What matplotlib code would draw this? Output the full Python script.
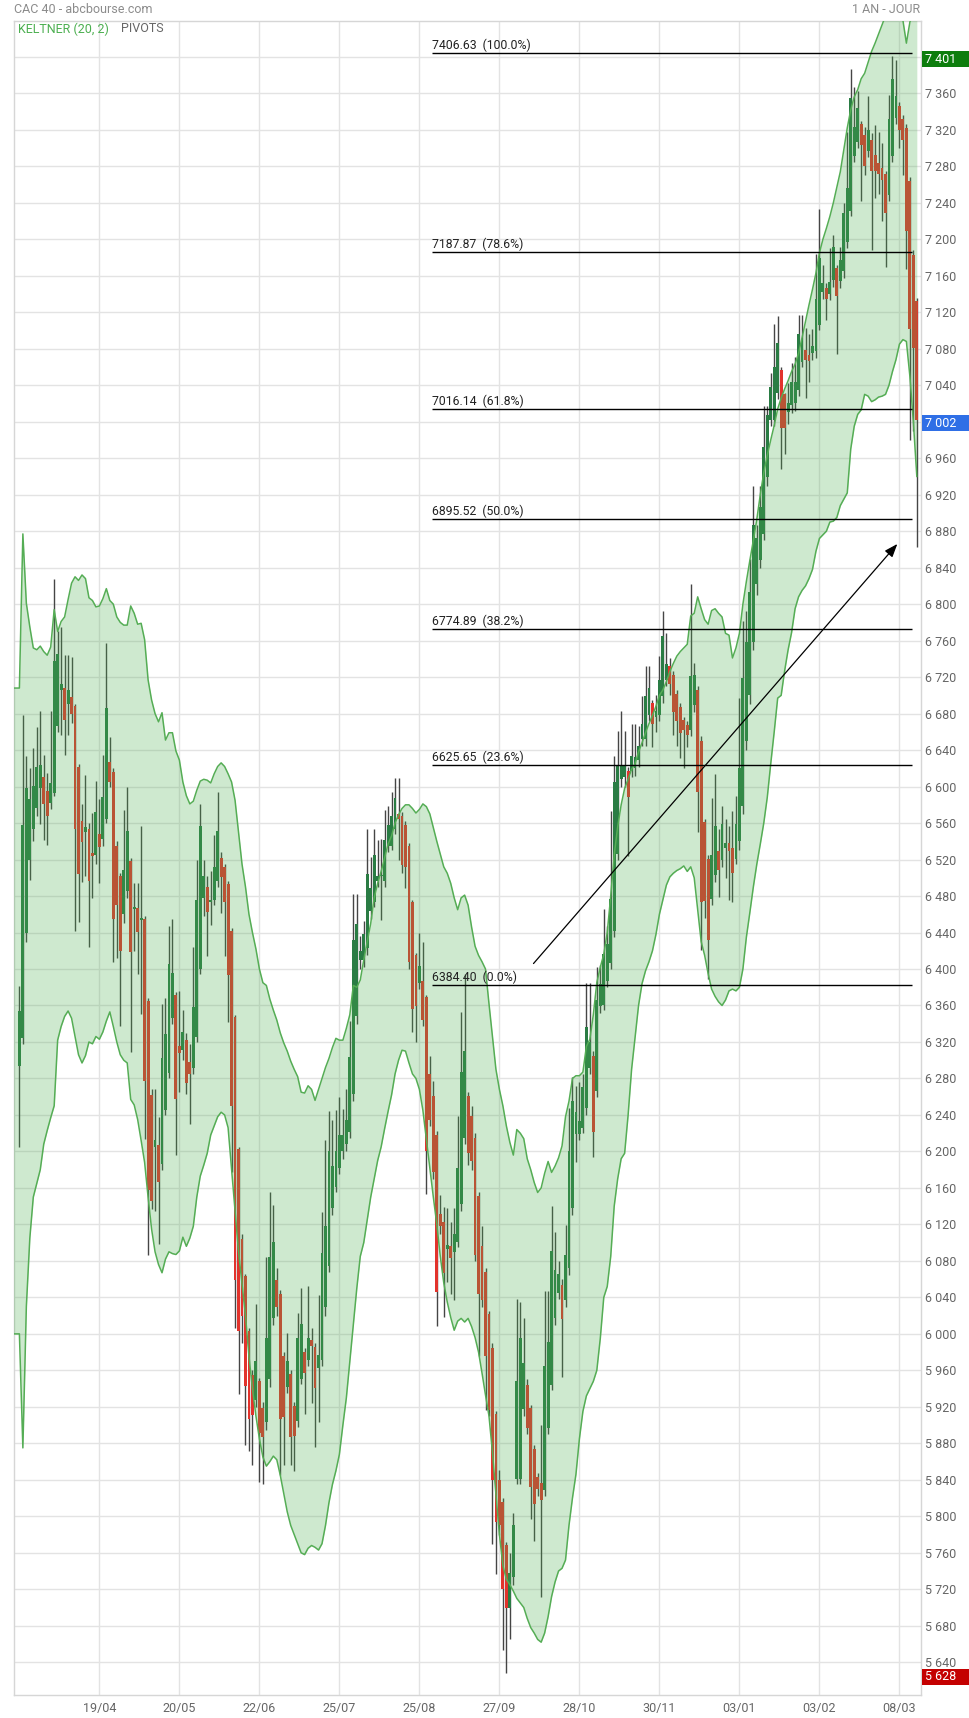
import matplotlib
matplotlib.use("Agg")
import matplotlib.pyplot as plt
import matplotlib.transforms as mtransforms
from matplotlib.patches import Rectangle
import numpy as np
import pandas as pd

plt.rcParams['font.family'] = ['Roboto', 'DejaVu Sans']

# ------------ CAC 40 daily, 15/03/2022 -> 15/03/2023 ------------
opens = [
    6294, 6324, 6440, 6519, 6553, 6576, 6598, 6610, 6595, 6582,
    6593, 6666, 6706, 6708, 6691, 6698, 6688, 6621, 6562, 6550,
    6554, 6527, 6525, 6548, 6542, 6565, 6627, 6616, 6535, 6502,
    6460, 6485, 6518, 6466, 6467, 6454, 6455, 6365, 6262, 6205,
    6207, 6186, 6245, 6286, 6346, 6371, 6316, 6311, 6322, 6298,
    6291, 6325, 6400, 6478, 6490, 6474, 6476, 6496, 6522, 6512,
    6493, 6442, 6347, 6203, 6104, 6063, 6003, 5955, 5927, 5948,
    5919, 5903, 5950, 6017, 6059, 6044, 5976, 5942, 5956, 5921,
    5904, 5950, 5980, 5971, 5993, 5986, 5963, 5971, 6029, 6074,
    6138, 6161, 6182, 6200, 6208, 6221, 6263, 6348, 6410, 6410,
    6423, 6464, 6474, 6497, 6502, 6497, 6535, 6535, 6554, 6570,
    6568, 6558, 6535, 6474, 6415, 6385, 6387, 6369, 6285, 6261,
    6218, 6131, 6123, 6093, 6096, 6090, 6101, 6142, 6215, 6261,
    6239, 6215, 6151, 6096, 6068, 6022, 5985, 5912, 5840, 5816,
    5768, 5700, 5734, 5841, 5841, 5918, 5944, 5919, 5874, 5843,
    5837, 5829, 5897, 5944, 6017, 6045, 6054, 6037, 6072, 6138,
    6219, 6219, 6226, 6248, 6292, 6305, 6266, 6359, 6360, 6387,
    6407, 6442, 6526, 6608, 6610, 6617, 6617, 6620, 6629, 6652,
    6652, 6678, 6692, 6676, 6678, 6699, 6717, 6732, 6722, 6702,
    6687, 6673, 6667, 6662, 6689, 6706, 6650, 6561, 6521, 6477,
    6503, 6529, 6519, 6533, 6538, 6533, 6521, 6540, 6579, 6650,
    6700, 6758, 6822, 6848, 6877, 6939, 7002, 7002, 7031, 7057,
    7030, 7011, 7018, 7020, 7035, 7066, 7079, 7073, 7075, 7077,
    7106, 7142, 7147, 7140, 7155, 7169, 7154, 7165, 7197, 7231,
    7291, 7307, 7326, 7314, 7297, 7309, 7292, 7284, 7278, 7272,
    7249, 7291, 7333, 7346, 7332, 7322, 7264, 7183, 7132,
]
highs = [
    6381, 6679, 6633, 6620, 6642, 6665, 6683, 6635, 6615, 6683,
    6828, 6771, 6775, 6744, 6744, 6742, 6690, 6625, 6581, 6613,
    6560, 6571, 6606, 6586, 6635, 6757, 6654, 6620, 6540, 6505,
    6574, 6600, 6522, 6494, 6494, 6557, 6458, 6368, 6268, 6268,
    6238, 6362, 6368, 6447, 6455, 6375, 6376, 6355, 6330, 6318,
    6424, 6520, 6581, 6520, 6502, 6507, 6547, 6594, 6528, 6515,
    6496, 6445, 6350, 6205, 6110, 6066, 6006, 5960, 6033, 5952,
    5925, 6084, 6156, 6141, 6072, 6048, 5980, 6001, 5960, 5925,
    6023, 6050, 5985, 6053, 6006, 5990, 6043, 6134, 6213, 6244,
    6234, 6245, 6260, 6246, 6268, 6343, 6482, 6482, 6436, 6453,
    6554, 6523, 6554, 6541, 6543, 6574, 6579, 6594, 6609, 6609,
    6572, 6562, 6538, 6476, 6418, 6440, 6430, 6372, 6305, 6277,
    6222, 6152, 6139, 6138, 6123, 6138, 6239, 6353, 6395, 6265,
    6250, 6220, 6155, 6118, 6072, 6025, 5990, 5915, 5851, 5820,
    5772, 5760, 5804, 6038, 6035, 6017, 5950, 5922, 5878, 5848,
    5900, 6047, 6047, 6140, 6112, 6080, 6060, 6119, 6248, 6282,
    6272, 6276, 6285, 6385, 6385, 6310, 6402, 6404, 6466, 6447,
    6573, 6633, 6661, 6683, 6661, 6622, 6669, 6669, 6666, 6699,
    6732, 6732, 6695, 6700, 6743, 6792, 6768, 6741, 6727, 6706,
    6692, 6676, 6672, 6822, 6736, 6710, 6655, 6565, 6525, 6587,
    6614, 6553, 6579, 6565, 6557, 6573, 6590, 6697, 6782, 6793,
    6850, 6930, 6887, 6929, 7017, 7017, 7053, 7107, 7116, 7060,
    7032, 7042, 7064, 7071, 7117, 7117, 7103, 7096, 7102, 7184,
    7233, 7172, 7152, 7190, 7205, 7172, 7192, 7240, 7318, 7387,
    7367, 7363, 7330, 7323, 7357, 7316, 7325, 7318, 7306, 7275,
    7358, 7401, 7397, 7350, 7336, 7326, 7268, 7188, 7136,
]
lows = [
    6205, 6318, 6430, 6498, 6540, 6568, 6559, 6541, 6536, 6575,
    6590, 6660, 6657, 6635, 6657, 6670, 6442, 6451, 6495, 6502,
    6424, 6478, 6515, 6494, 6535, 6560, 6600, 6408, 6412, 6338,
    6450, 6478, 6309, 6420, 6394, 6351, 6214, 6086, 6137, 6135,
    6098, 6180, 6240, 6280, 6340, 6196, 6265, 6300, 6263, 6230,
    6285, 6320, 6395, 6458, 6414, 6448, 6470, 6490, 6461, 6414,
    6342, 6177, 6006, 5934, 5990, 5878, 5872, 5856, 5920, 5838,
    5835, 5895, 5942, 6010, 6020, 5845, 5856, 5935, 5856, 5850,
    5898, 5945, 5912, 5965, 5924, 5876, 5903, 5965, 6020, 6068,
    6130, 6155, 6175, 6192, 6200, 6215, 6255, 6340, 6400, 6402,
    6415, 6455, 6468, 6490, 6454, 6490, 6528, 6530, 6548, 6519,
    6505, 6489, 6400, 6331, 6320, 6378, 6338, 6153, 6228, 6170,
    6009, 6110, 6019, 6057, 6044, 6037, 6095, 6135, 6208, 6185,
    6180, 6080, 5976, 6030, 5917, 5910, 5770, 5737, 5780, 5653,
    5628, 5665, 5725, 5835, 5835, 5910, 5890, 5797, 5773, 5822,
    5712, 5822, 5890, 5938, 6010, 6038, 5953, 6030, 6065, 6130,
    6188, 6212, 6220, 6240, 6285, 6194, 6260, 6352, 6355, 6380,
    6400, 6435, 6520, 6600, 6600, 6524, 6610, 6612, 6622, 6645,
    6645, 6672, 6643, 6660, 6672, 6692, 6710, 6700, 6657, 6644,
    6631, 6620, 6643, 6655, 6682, 6550, 6421, 6456, 6389, 6470,
    6495, 6479, 6512, 6500, 6476, 6473, 6515, 6530, 6570, 6640,
    6690, 6750, 6810, 6840, 6870, 6930, 6995, 6995, 7025, 6948,
    6965, 6998, 7010, 7012, 7028, 7060, 7026, 7044, 7068, 7070,
    7100, 7135, 7111, 7133, 7148, 7074, 7147, 7158, 7190, 7225,
    7285, 7300, 7242, 7270, 7290, 7188, 7245, 7250, 7220, 7170,
    7242, 7285, 7326, 7300, 7270, 7167, 6980, 6990, 6863,
]
closes = [
    6354, 6558, 6598, 6586, 6601, 6622, 6624, 6581, 6568, 6604,
    6738, 6745, 6712, 6673, 6706, 6680, 6554, 6504, 6539, 6556,
    6496, 6524, 6572, 6534, 6589, 6686, 6605, 6455, 6470, 6420,
    6508, 6551, 6419, 6468, 6441, 6456, 6277, 6158, 6146, 6212,
    6167, 6302, 6329, 6406, 6396, 6258, 6308, 6331, 6275, 6285,
    6358, 6476, 6557, 6502, 6463, 6476, 6512, 6551, 6501, 6473,
    6393, 6250, 6059, 6003, 6020, 5943, 5907, 5911, 5970, 5891,
    5887, 5996, 6084, 6101, 6030, 5907, 5909, 5970, 5887, 5888,
    5995, 6011, 5957, 5996, 5987, 5941, 5977, 6089, 6118, 6200,
    6184, 6200, 6218, 6218, 6234, 6303, 6432, 6449, 6420, 6438,
    6504, 6489, 6525, 6502, 6503, 6541, 6558, 6568, 6587, 6565,
    6514, 6512, 6408, 6356, 6359, 6403, 6344, 6201, 6234, 6177,
    6046, 6118, 6067, 6097, 6083, 6109, 6182, 6287, 6310, 6198,
    6190, 6086, 6044, 6037, 5976, 5917, 5840, 5794, 5791, 5720,
    5700, 5738, 5790, 5948, 5995, 5968, 5897, 5832, 5813, 5830,
    5818, 5965, 5991, 6091, 6070, 6066, 6016, 6086, 6201, 6255,
    6243, 6233, 6271, 6336, 6320, 6221, 6366, 6384, 6416, 6427,
    6477, 6605, 6624, 6624, 6624, 6589, 6633, 6632, 6645, 6669,
    6699, 6708, 6669, 6683, 6717, 6765, 6734, 6712, 6682, 6672,
    6659, 6662, 6656, 6721, 6722, 6594, 6473, 6475, 6432, 6525,
    6557, 6508, 6559, 6538, 6529, 6505, 6559, 6620, 6719, 6758,
    6813, 6887, 6873, 6906, 6972, 7007, 7038, 7060, 7086, 6993,
    6993, 7020, 7044, 7043, 7096, 7091, 7068, 7067, 7083, 7135,
    7180, 7152, 7134, 7153, 7192, 7138, 7177, 7229, 7256, 7355,
    7323, 7344, 7303, 7280, 7320, 7275, 7275, 7272, 7265, 7229,
    7332, 7376, 7357, 7320, 7309, 7209, 7102, 7081, 7002,
]

# Keltner (20, 2) bands, starting two sessions before the first candle
kelt_upper = [
    6708, 6708,
    6708, 6877, 6801, 6775, 6752, 6750, 6754, 6748, 6744, 6753,
    6794, 6770, 6781, 6786, 6805, 6823, 6830, 6826, 6832, 6828,
    6807, 6804, 6797, 6798, 6806, 6817, 6804, 6800, 6786, 6780,
    6777, 6777, 6798, 6790, 6778, 6779, 6761, 6717, 6695, 6680,
    6671, 6681, 6651, 6659, 6659, 6639, 6629, 6605, 6590, 6581,
    6584, 6596, 6606, 6608, 6607, 6604, 6614, 6622, 6626, 6622,
    6614, 6605, 6585, 6550, 6515, 6490, 6460, 6440, 6422, 6400,
    6385, 6382, 6367, 6355, 6344, 6330, 6319, 6310, 6299, 6290,
    6282, 6265, 6264, 6272, 6268, 6256, 6268, 6280, 6292, 6302,
    6314, 6324, 6322, 6322, 6335, 6350, 6382, 6380, 6388, 6410,
    6430, 6450, 6478, 6494, 6507, 6522, 6537, 6546, 6560, 6569,
    6576, 6580, 6580, 6576, 6571, 6575, 6581, 6578, 6570, 6555,
    6540, 6526, 6512, 6505, 6494, 6478, 6465, 6478, 6481, 6470,
    6446, 6425, 6415, 6408, 6400, 6362, 6326, 6290, 6268, 6250,
    6228, 6210, 6196, 6224, 6220, 6214, 6192, 6180, 6166, 6155,
    6160, 6176, 6189, 6177, 6184, 6193, 6206, 6238, 6255, 6280,
    6283, 6283, 6287, 6315, 6323, 6350, 6385, 6402, 6416, 6440,
    6480, 6525, 6556, 6580, 6598, 6608, 6619, 6625, 6638, 6648,
    6659, 6669, 6678, 6688, 6700, 6706, 6715, 6726, 6735, 6743,
    6748, 6752, 6756, 6787, 6790, 6808, 6795, 6783, 6778, 6793,
    6795, 6790, 6786, 6768, 6766, 6741, 6752, 6768, 6800, 6825,
    6848, 6870, 6893, 6920, 6944, 6963, 6980, 6996, 7014, 7026,
    7036, 7045, 7055, 7063, 7075, 7092, 7110, 7128, 7145, 7163,
    7185, 7200, 7212, 7225, 7240, 7257, 7274, 7298, 7322, 7342,
    7356, 7364, 7376, 7382, 7394, 7406, 7415, 7425, 7435, 7445,
    7450, 7455, 7458, 7455, 7440, 7415, 7438, 7450, 7455,
]
kelt_lower = [
    6000, 6000,
    6000, 5875, 6030, 6105, 6150, 6165, 6180, 6208, 6223, 6237,
    6250, 6322, 6337, 6348, 6354, 6346, 6326, 6306, 6297, 6305,
    6320, 6318, 6326, 6323, 6331, 6343, 6353, 6337, 6320, 6306,
    6300, 6297, 6257, 6251, 6235, 6212, 6188, 6150, 6115, 6090,
    6076, 6067, 6082, 6090, 6088, 6087, 6091, 6106, 6096, 6105,
    6118, 6150, 6173, 6185, 6198, 6218, 6228, 6238, 6243, 6240,
    6226, 6180, 6135, 6090, 6055, 6020, 5975, 5940, 5910, 5885,
    5865, 5855, 5860, 5866, 5862, 5845, 5825, 5805, 5790, 5780,
    5770, 5760, 5758, 5765, 5768, 5766, 5763, 5770, 5790, 5815,
    5835, 5850, 5868, 5900, 5930, 5970, 6010, 6050, 6085, 6100,
    6125, 6150, 6170, 6190, 6205, 6225, 6244, 6262, 6285, 6300,
    6311, 6310, 6297, 6285, 6280, 6268, 6245, 6213, 6180, 6150,
    6120, 6085, 6056, 6035, 6018, 6004, 6014, 6017, 6013, 6017,
    6008, 5996, 5980, 5957, 5933, 5910, 5870, 5824, 5780, 5746,
    5731, 5725, 5718, 5710, 5705, 5700, 5688, 5678, 5672, 5665,
    5662, 5672, 5690, 5712, 5728, 5740, 5743, 5752, 5790, 5820,
    5846, 5885, 5915, 5932, 5940, 5948, 5960, 5995, 6040, 6052,
    6085, 6140, 6170, 6192, 6198, 6240, 6290, 6325, 6360, 6384,
    6398, 6408, 6420, 6438, 6460, 6476, 6492, 6501, 6505, 6508,
    6510, 6513, 6507, 6512, 6500, 6465, 6430, 6415, 6395, 6378,
    6370, 6364, 6360, 6366, 6376, 6378, 6376, 6380, 6400, 6435,
    6462, 6490, 6515, 6537, 6560, 6588, 6625, 6660, 6697, 6700,
    6727, 6750, 6769, 6795, 6808, 6815, 6820, 6828, 6838, 6858,
    6872, 6876, 6880, 6890, 6891, 6895, 6908, 6915, 6922, 6970,
    6995, 7008, 7013, 7030, 7028, 7022, 7024, 7027, 7028, 7030,
    7040, 7055, 7068, 7085, 7090, 7088, 7050, 7000, 6940,
]

holidays = ["2022-04-15", "2022-04-18", "2022-12-26"]
tick_dates = ["2022-04-19", "2022-05-20", "2022-06-22", "2022-07-25", "2022-08-25",
              "2022-09-27", "2022-10-28", "2022-11-30", "2023-01-03", "2023-02-03",
              "2023-03-08"]

# Fibonacci retracement drawn by hand on the chart
fib_levels = [7406.63, 7187.87, 7016.14, 6895.52, 6774.89, 6625.65, 6384.40]
fib_pcts = ["100.0%", "78.6%", "61.8%", "50.0%", "38.2%", "23.6%", "0.0%"]
fib_span = [118.6, 256.5]            # in candle index units
arrow_from = [147.8, 6406]
arrow_to = [252.4, 6866]

# ------------ Build ------------
dates = pd.bdate_range("2022-03-15", "2023-03-15")
dates = dates[~dates.isin(pd.to_datetime(holidays))]
x = np.arange(len(dates))
tick_idx = [dates.get_loc(pd.Timestamp(d)) for d in tick_dates]
tick_lbl = [pd.Timestamp(d).strftime("%d/%m") for d in tick_dates]

o, h, l, c = map(np.array, (opens, highs, lows, closes))
up = c >= o

W, H = 969, 1718
YMIN, YMAX = 5604.1, 7439.3
px = (YMAX - YMIN) / (1695 - 21)     # price units per pixel

fig = plt.figure(figsize=(W / 100, H / 100), dpi=100)
ax = fig.add_axes([14 / W, 1 - 1695 / H, (921 - 14) / W, (1695 - 21) / H])
ax.set_xlim(-1.55, 259.2)
ax.set_ylim(YMIN, YMAX)

# grid / axes
ax.set_axisbelow(True)
ax.grid(color="#e3e3e3", lw=1)
for s in ax.spines.values():
    s.set_color("#d6d6d6")
    s.set_linewidth(1)
ax.set_xticks(tick_idx)
ax.set_xticklabels(tick_lbl)
yt = np.arange(5640, 7401, 40)
ax.set_yticks(yt)
ax.set_yticklabels([f"{v:,}".replace(",", " ") for v in yt])
ax.yaxis.tick_right()
ax.tick_params(axis="y", length=0, pad=3, labelsize=9, labelcolor="#666666")
ax.tick_params(axis="x", length=0, pad=5, labelsize=9, labelcolor="#666666")

# candles (drawn under the translucent band like the original)
ax.vlines(x, l, h, color="#454545", lw=1.0, zorder=2)
body_col = np.where(up, "#2a7c44", "#e2332c")
ax.bar(x, np.maximum(np.abs(c - o), 1.2), bottom=np.minimum(o, c), width=0.82,
       color=body_col, lw=0, zorder=2.1)

# Keltner band
xb = np.arange(-2, len(dates))
ax.fill_between(xb, kelt_lower, kelt_upper, color="#4caf50", alpha=0.27, lw=0, zorder=3)
ax.plot(xb, kelt_upper, color="#55ad55", lw=1.1, zorder=3.2)
ax.plot(xb, kelt_lower, color="#55ad55", lw=1.1, zorder=3.2)

# Fibonacci lines (the site draws them ~2 px under the level)
fib_y = np.array(fib_levels) - 2 * px
ax.hlines(fib_y, fib_span[0], fib_span[1], color="black", lw=1, zorder=4)
for y, lvl, pct in zip(fib_y, fib_levels, fib_pcts):
    ax.annotate(f"{lvl:.2f}  ({pct})", (fib_span[0], y), xytext=(0, 0.8),
                textcoords="offset points", ha="left", va="bottom",
                fontsize=8.8, color="#222222", zorder=5)

# trend arrow
ax.annotate("", xy=arrow_to, xytext=arrow_from,
            arrowprops=dict(arrowstyle="-|>,head_length=0.8,head_width=0.3",
                            color="black", lw=0.9, shrinkA=0, shrinkB=0),
            zorder=5)

# price tags on the right axis (max high, last close, min low)
trans = mtransforms.blended_transform_factory(ax.transAxes, ax.transData)
tag_h = 16 * px
tags = [(h.max(), "#0d7d0d"), (c[-1], "#2f6fe6"), (l.min(), "#c40000")]
for val, col in tags:
    yc = val - 3.5 * px
    ax.add_patch(Rectangle((1.0008, yc - tag_h / 2), 48 / 907, tag_h, transform=trans,
                           fc=col, ec="none", clip_on=False, zorder=6))
    ax.text(1.0008 + 3.5 / 907, yc, f"{int(val):,}".replace(",", " "), transform=trans,
            color="white", fontsize=9, va="center", ha="left", zorder=7, clip_on=False)

# header
fig.text(14 / W, 1 - 9.5 / H, "CAC 40 - abcbourse.com", color="#8c8c8c", fontsize=9, va="center")
fig.text(920 / W, 1 - 9.5 / H, "1 AN - JOUR", color="#8c8c8c", fontsize=9, va="center", ha="right")
fig.text(18 / W, 1 - 29 / H, "KELTNER (20, 2)", color="#4caf50", fontsize=9, va="center")
fig.text(121 / W, 1 - 29 / H, "PIVOTS", color="#666666", fontsize=9, va="center")

fig.savefig("out.png", dpi=100)
